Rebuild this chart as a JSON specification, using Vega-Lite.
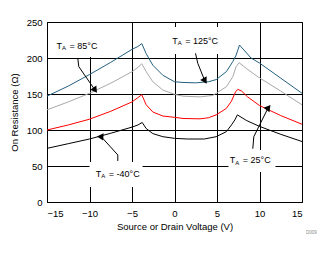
{
  "$schema": "https://vega.github.io/schema/vega-lite/v6.json",
  "autosize": "none",
  "width": 255,
  "height": 180,
  "padding": {"left": 47, "top": 22, "right": 33, "bottom": 52},
  "background": "white",
  "config": {
    "font": "Liberation Sans",
    "view": {"stroke": "black", "strokeWidth": 1},
    "axis": {
      "grid": true, "gridColor": "black", "gridOpacity": 1, "gridWidth": 1,
      "domain": false, "ticks": false, "labelOverlap": false,
      "labelFont": "Liberation Sans", "labelFontSize": 9.5, "labelColor": "black",
      "titleFont": "Liberation Sans", "titleFontSize": 9.5, "titleFontWeight": "normal", "titleColor": "black"
    }
  },
  "datasets": {
    "curves": [
      {"v": -15, "r": 147, "t": "125"}, {"v": -12.5, "r": 161, "t": "125"}, {"v": -10, "r": 177, "t": "125"}, {"v": -7.5, "r": 194, "t": "125"}, {"v": -5, "r": 212, "t": "125"}, {"v": -4.3, "r": 216, "t": "125"}, {"v": -3.85, "r": 220, "t": "125"}, {"v": -3.33, "r": 206, "t": "125"}, {"v": -2.55, "r": 190, "t": "125"}, {"v": -1.37, "r": 176, "t": "125"}, {"v": 0, "r": 167, "t": "125"}, {"v": 1, "r": 166, "t": "125"}, {"v": 2.5, "r": 165.5, "t": "125"}, {"v": 4, "r": 167, "t": "125"}, {"v": 4.9, "r": 170, "t": "125"}, {"v": 6.1, "r": 181, "t": "125"}, {"v": 6.86, "r": 195, "t": "125"}, {"v": 7.25, "r": 204, "t": "125"}, {"v": 7.45, "r": 211, "t": "125"}, {"v": 7.65, "r": 218, "t": "125"}, {"v": 9, "r": 200, "t": "125"}, {"v": 10, "r": 193, "t": "125"}, {"v": 12.5, "r": 172, "t": "125"}, {"v": 15, "r": 151, "t": "125"},
      {"v": -15, "r": 128, "t": "85"}, {"v": -12.5, "r": 139, "t": "85"}, {"v": -10, "r": 151, "t": "85"}, {"v": -7.5, "r": 165, "t": "85"}, {"v": -5, "r": 181, "t": "85"}, {"v": -4.3, "r": 187, "t": "85"}, {"v": -3.85, "r": 192, "t": "85"}, {"v": -3.33, "r": 181, "t": "85"}, {"v": -2.55, "r": 167, "t": "85"}, {"v": -1.37, "r": 155.5, "t": "85"}, {"v": 0, "r": 149.5, "t": "85"}, {"v": 1, "r": 147, "t": "85"}, {"v": 3, "r": 146, "t": "85"}, {"v": 4.5, "r": 148, "t": "85"}, {"v": 4.9, "r": 151, "t": "85"}, {"v": 6.1, "r": 160, "t": "85"}, {"v": 6.86, "r": 174, "t": "85"}, {"v": 7.25, "r": 188, "t": "85"}, {"v": 7.6, "r": 193.5, "t": "85"}, {"v": 8.5, "r": 185, "t": "85"}, {"v": 9.8, "r": 174, "t": "85"}, {"v": 12.5, "r": 154, "t": "85"}, {"v": 15, "r": 135, "t": "85"},
      {"v": -15, "r": 100, "t": "25"}, {"v": -12.5, "r": 107, "t": "25"}, {"v": -10, "r": 115, "t": "25"}, {"v": -7.5, "r": 126, "t": "25"}, {"v": -5, "r": 139, "t": "25"}, {"v": -4.3, "r": 145, "t": "25"}, {"v": -3.85, "r": 149, "t": "25"}, {"v": -3.33, "r": 135, "t": "25"}, {"v": -2.55, "r": 125, "t": "25"}, {"v": -1.37, "r": 119.4, "t": "25"}, {"v": 0, "r": 117.6, "t": "25"}, {"v": 1, "r": 116, "t": "25"}, {"v": 3, "r": 115.5, "t": "25"}, {"v": 4, "r": 117, "t": "25"}, {"v": 4.9, "r": 121, "t": "25"}, {"v": 6.1, "r": 130, "t": "25"}, {"v": 6.7, "r": 140, "t": "25"}, {"v": 7.18, "r": 153, "t": "25"}, {"v": 7.45, "r": 156.5, "t": "25"}, {"v": 7.9, "r": 154, "t": "25"}, {"v": 8.6, "r": 146, "t": "25"}, {"v": 10, "r": 134, "t": "25"}, {"v": 12.5, "r": 120, "t": "25"}, {"v": 15, "r": 108, "t": "25"},
      {"v": -15, "r": 74.5, "t": "-40"}, {"v": -12.5, "r": 81, "t": "-40"}, {"v": -10, "r": 87.5, "t": "-40"}, {"v": -7.5, "r": 95.5, "t": "-40"}, {"v": -5, "r": 104, "t": "-40"}, {"v": -4.3, "r": 107, "t": "-40"}, {"v": -3.8, "r": 110.5, "t": "-40"}, {"v": -3.33, "r": 102, "t": "-40"}, {"v": -2.55, "r": 95, "t": "-40"}, {"v": -1.37, "r": 90.7, "t": "-40"}, {"v": 0, "r": 88.4, "t": "-40"}, {"v": 1.5, "r": 87.5, "t": "-40"}, {"v": 3.5, "r": 87.5, "t": "-40"}, {"v": 4.9, "r": 90.7, "t": "-40"}, {"v": 6.1, "r": 97.7, "t": "-40"}, {"v": 6.7, "r": 107, "t": "-40"}, {"v": 7.1, "r": 114, "t": "-40"}, {"v": 7.4, "r": 121, "t": "-40"}, {"v": 8.5, "r": 113, "t": "-40"}, {"v": 10, "r": 105, "t": "-40"}, {"v": 12.5, "r": 94, "t": "-40"}, {"v": 15, "r": 84, "t": "-40"}
    ],
    "boxes": [
      {"v": -14.35, "v2": -8.82, "r": 248.6, "r2": 201.4},
      {"v": -0.47, "v2": 5.41, "r": 243, "r2": 205.6},
      {"v": -10.0, "v2": -3.76, "r": 55.6, "r2": 20.8},
      {"v": 6.35, "v2": 11.88, "r": 72.2, "r2": 41.7}
    ],
    "labels": [
      {"v": -12.35, "r": 216.7, "main": "T", "sub": "A", "rest": "= 85°C"},
      {"v": 1.26, "r": 224, "main": "T", "sub": "A", "rest": "= 125°C"},
      {"v": -7.73, "r": 39.3, "main": "T", "sub": "A", "rest": "= -40°C"},
      {"v": 8.04, "r": 58.3, "main": "T", "sub": "A", "rest": "= 25°C"}
    ],
    "arrows": [
      {"id": "85", "o": 1, "v": -11.38, "r": 199.6}, {"id": "85", "o": 2, "v": -11.26, "r": 188}, {"id": "85", "o": 3, "v": -9.41, "r": 156.5},
      {"id": "125", "o": 1, "v": 2.47, "r": 206.5}, {"id": "125", "o": 2, "v": 2.74, "r": 192.6}, {"id": "125", "o": 3, "v": 3.53, "r": 169.4},
      {"id": "-40", "o": 1, "v": -6.67, "r": 57}, {"id": "-40", "o": 2, "v": -6.67, "r": 65.3}, {"id": "-40", "o": 3, "v": -8.62, "r": 90.7},
      {"id": "25", "o": 1, "v": 9.21, "r": 74}, {"id": "25", "o": 2, "v": 9.33, "r": 90.7}, {"id": "25", "o": 3, "v": 10.98, "r": 130}
    ],
    "tips": [
      {"id": "85", "v": -9.41, "r": 156.5},
      {"id": "125", "v": 3.53, "r": 169.4},
      {"id": "-40", "v": -8.62, "r": 90.7},
      {"id": "25", "v": 10.98, "r": 130}
    ],
    "note": [{"v": 16.1, "r": -43, "text": "D009"}]
  },
  "encoding": {
    "x": {"field": "v", "type": "quantitative", "scale": {"domain": [-15, 15], "nice": false},
          "axis": {"values": [-15, -10, -5, 0, 5, 10, 15], "tickCount": 7, "title": "Source or Drain Voltage (V)", "labelPadding": 6, "titlePadding": 4}},
    "y": {"field": "r", "type": "quantitative", "scale": {"domain": [0, 250], "nice": false},
          "axis": {"values": [0, 50, 100, 150, 200, 250], "tickCount": 6, "title": "On Resistance (Ω)", "labelPadding": 5, "titlePadding": 7}}
  },
  "layer": [
    {
      "data": {"name": "boxes"},
      "mark": {"type": "rect", "fill": "white", "stroke": null},
      "encoding": {
        "x2": {"field": "v2"},
        "y2": {"field": "r2"}
      }
    },
    {
      "data": {"name": "curves"},
      "mark": {"type": "line", "strokeWidth": 1, "interpolate": "linear"},
      "encoding": {
        "color": {"field": "t", "type": "nominal", "legend": null,
                  "scale": {"domain": ["125", "85", "25", "-40"], "range": ["#24607F", "#A8A8A8", "#FF0000", "#000000"]}}
      }
    },
    {
      "data": {"name": "arrows"},
      "mark": {"type": "line", "color": "black", "strokeWidth": 1},
      "encoding": {
        "detail": {"field": "id"},
        "order": {"field": "o", "type": "quantitative"}
      }
    },
    {
      "data": {"name": "tips"},
      "mark": {"type": "point", "shape": "triangle", "filled": true, "color": "black", "size": 55, "opacity": 1},
      "encoding": {
        "angle": {"field": "id", "type": "nominal", "scale": {"domain": ["85", "125", "-40", "25"], "range": [145, 158, 318, 26]}, "legend": null}
      }
    },
    {
      "data": {"name": "labels"},
      "mark": {"type": "text", "align": "right", "baseline": "middle", "dx": -7.5, "fontSize": 9, "font": "Liberation Sans", "color": "black"},
      "encoding": {"text": {"field": "main"}}
    },
    {
      "data": {"name": "labels"},
      "mark": {"type": "text", "align": "left", "baseline": "middle", "dx": -7.5, "dy": 2.5, "fontSize": 6, "font": "Liberation Sans", "color": "black"},
      "encoding": {"text": {"field": "sub"}}
    },
    {
      "data": {"name": "labels"},
      "mark": {"type": "text", "align": "left", "baseline": "middle", "dx": 0, "fontSize": 9, "font": "Liberation Sans", "color": "black"},
      "encoding": {"text": {"field": "rest"}}
    },
    {
      "data": {"name": "note"},
      "mark": {"type": "text", "align": "center", "baseline": "middle", "fontSize": 4.5, "font": "Liberation Sans", "color": "#8a8a8a"},
      "encoding": {"text": {"field": "text"}}
    }
  ]
}
